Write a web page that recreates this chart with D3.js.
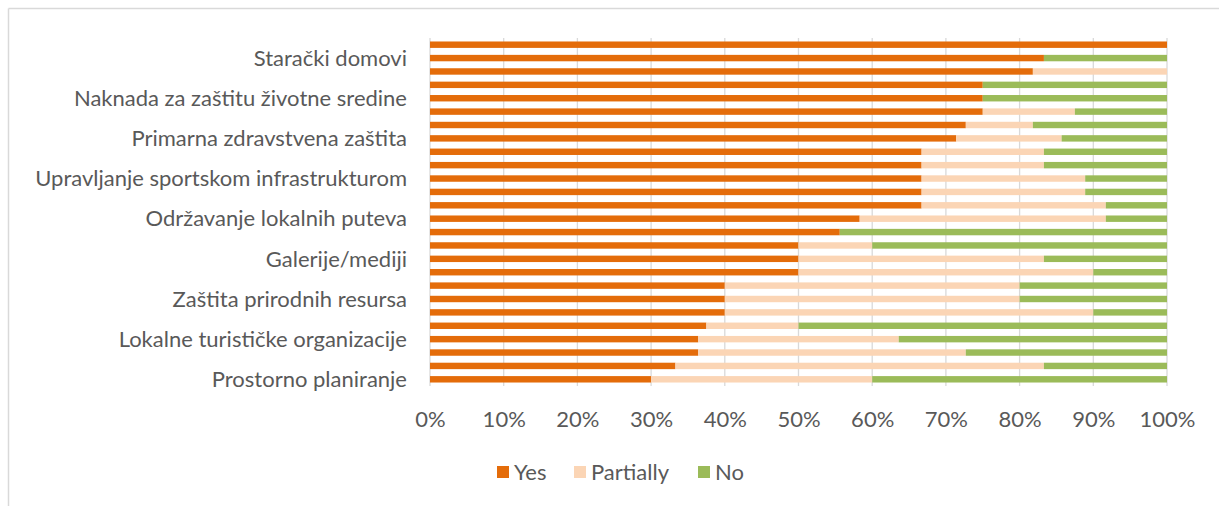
<!DOCTYPE html>
<html>
<head>
<meta charset="utf-8">
<script src="https://cdn.jsdelivr.net/npm/d3@7"></script>
<style>
  body { margin: 0; background: #fff; }
  svg text { font-family: "Lato", "Open Sans", sans-serif; fill: #595959; }
</style>
</head>
<body>
<div id="chart"></div>
<script>
// 26 categories top to bottom, only every third one carries a label
var labels = ["", "Starački domovi", "", "", "Naknada za zaštitu životne sredine", "", "",
  "Primarna zdravstvena zaštita", "", "", "Upravljanje sportskom infrastrukturom", "", "",
  "Održavanje lokalnih puteva", "", "", "Galerije/mediji", "", "",
  "Zaštita prirodnih resursa", "", "", "Lokalne turističke organizacije", "", "",
  "Prostorno planiranje"];

var yesValues = [100, 83.3, 81.8, 75, 75, 75, 72.7, 71.4, 66.7, 66.7, 66.7, 66.7, 66.7,
  58.3, 55.6, 50, 50, 50, 40, 40, 40, 37.5, 36.4, 36.4, 33.3, 30];
var partialValues = [0, 0, 18.2, 0, 0, 12.5, 9.1, 14.3, 16.6, 16.6, 22.2, 22.2, 25,
  33.4, 0, 10, 33.3, 40, 40, 40, 50, 12.5, 27.2, 36.3, 50, 30];
var noValues = [0, 16.7, 0, 25, 25, 12.5, 18.2, 14.3, 16.7, 16.7, 11.1, 11.1, 8.3,
  8.3, 44.4, 40, 16.7, 10, 20, 20, 10, 50, 36.4, 27.3, 16.7, 40];

var seriesNames = ["Yes", "Partially", "No"];
var seriesColors = ["#e46c0a", "#fbd5b5", "#9bbb59"];
var xTicks = [0, 10, 20, 30, 40, 50, 60, 70, 80, 90, 100];

var svgWidth = 1219, svgHeight = 506;
var margin = {top: 38, left: 430, right: 52, bottom: 120};
var width = svgWidth - margin.left - margin.right;
var height = svgHeight - margin.top - margin.bottom;

var svg = d3.select("#chart").append("svg")
  .attr("width", svgWidth)
  .attr("height", svgHeight);

// chart frame (only top and left edges are visible)
svg.append("line").attr("x1", 8.5).attr("x2", svgWidth).attr("y1", 8.5).attr("y2", 8.5)
  .attr("stroke", "#d9d9d9").attr("stroke-width", 1.5);
svg.append("line").attr("x1", 8.5).attr("x2", 8.5).attr("y1", 8.5).attr("y2", svgHeight)
  .attr("stroke", "#d9d9d9").attr("stroke-width", 1.5);

var g = svg.append("g").attr("transform", "translate(" + margin.left + "," + margin.top + ")");

var xScale = d3.scaleLinear().domain([0, 100]).range([0, width]);
var yScale = d3.scaleBand().domain(d3.range(labels.length)).range([0, height]).paddingInner(0.52).paddingOuter(0.26);

// gridlines
g.selectAll(".grid").data(xTicks).enter().append("line")
  .attr("class", "grid")
  .attr("x1", d => xScale(d)).attr("x2", d => xScale(d))
  .attr("y1", 0).attr("y2", height)
  .attr("stroke", "#d9d9d9").attr("stroke-width", 1.3);

// stacked data
var rows = labels.map((l, i) => ({i: i, Yes: yesValues[i], Partially: partialValues[i], No: noValues[i]}));
var stack = d3.stack().keys(seriesNames)(rows);

g.selectAll(".series").data(stack).enter().append("g")
  .attr("class", "series")
  .attr("fill", (d, i) => seriesColors[i])
  .selectAll("rect").data(d => d).enter().append("rect")
  .attr("x", d => xScale(d[0]))
  .attr("width", d => Math.max(0, xScale(Math.min(100, d[1])) - xScale(d[0])))
  .attr("y", d => yScale(d.data.i))
  .attr("height", yScale.bandwidth());

// category labels
var yAxis = g.append("g").call(d3.axisLeft(yScale).tickSize(0).tickPadding(23).tickFormat(i => labels[i]));
yAxis.select(".domain").remove();
yAxis.selectAll("text").style("font-size", "22px").style("fill", "#595959").attr("dy", "0.35em");

// value axis
var xAxis = g.append("g").attr("transform", "translate(0," + height + ")")
  .call(d3.axisBottom(xScale).tickValues(xTicks).tickSize(0).tickPadding(25).tickFormat(d => d + "%"));
xAxis.select(".domain").remove();
xAxis.selectAll("text").style("font-size", "22px").style("fill", "#595959");

// legend
var legendX = [497, 574, 698];
var legend = svg.selectAll(".legend").data(seriesNames).enter().append("g")
  .attr("class", "legend")
  .attr("transform", (d, i) => "translate(" + legendX[i] + ",466)");
legend.append("rect").attr("width", 12).attr("height", 12).attr("fill", (d, i) => seriesColors[i]);
legend.append("text").attr("x", 17).attr("y", 6).attr("dy", "0.35em")
  .style("font-size", "22px").text(d => d);
</script>
</body>
</html>
